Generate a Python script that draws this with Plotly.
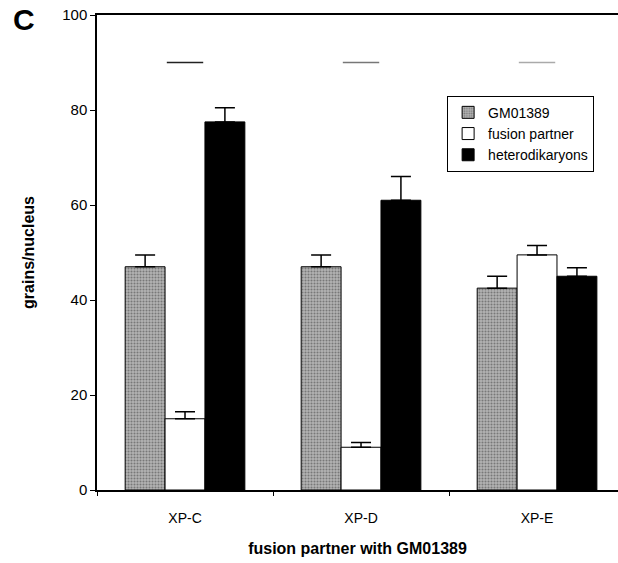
import plotly.graph_objects as go

categories = ["XP-C", "XP-D", "XP-E"]
gm01389 = [47.0, 47.0, 42.5]
gm01389_err = [2.5, 2.5, 2.5]
fusion_partner = [15.0, 9.0, 49.5]
fusion_partner_err = [1.5, 1.0, 2.0]
heterodikaryons = [77.5, 61.0, 45.0]
heterodikaryons_err = [3.0, 5.0, 1.8]
marks_top = [90, 90, 90]
y_ticks = [0, 20, 40, 60, 80, 100]

FONT = "Liberation Sans, Arial, sans-serif"

def err(vals):
    return dict(type="data", array=vals, arrayminus=[0] * len(vals), symmetric=False,
                color="black", thickness=1.5, width=10)

fig = go.Figure()
fig.add_trace(go.Bar(
    name="GM01389", x=categories, y=gm01389, error_y=err(gm01389_err),
    marker=dict(color="#a8a8a8", line=dict(color="black", width=1),
                pattern=dict(shape=".", fgcolor="#3c3c3c", bgcolor="#b4b4b4", size=3, solidity=0.4)),
))
fig.add_trace(go.Bar(
    name="fusion partner", x=categories, y=fusion_partner, error_y=err(fusion_partner_err),
    marker=dict(color="white", line=dict(color="black", width=1)),
))
fig.add_trace(go.Bar(
    name="heterodikaryons", x=categories, y=heterodikaryons, error_y=err(heterodikaryons_err),
    marker=dict(color="black", line=dict(color="black", width=1)),
))
fig.add_trace(go.Scatter(
    x=categories, y=marks_top, mode="markers", showlegend=False, hoverinfo="skip",
    marker=dict(symbol="line-ew", size=26, color="black",
                line=dict(width=1.5, color=["#222222", "#777777", "#aaaaaa"])),
))

fig.update_layout(
    width=618, height=563,
    margin=dict(l=97, r=0, t=15, b=73),
    paper_bgcolor="white", plot_bgcolor="white",
    barmode="group", bargap=0.32, bargroupgap=0,
    font=dict(family=FONT, size=14, color="black"),
    legend=dict(x=0.672, y=0.83, xanchor="left", yanchor="top",
                bordercolor="black", borderwidth=1, bgcolor="white",
                font=dict(size=14), itemwidth=30, tracegroupgap=0),
    xaxis=dict(range=[-0.5, 2.46], showline=True, linecolor="black", linewidth=1.5,
               mirror=True, ticks="outside", tickson="boundaries", ticklen=4,
               tickcolor="black", showgrid=False, zeroline=False,
               tickfont=dict(size=14), ticklabelstandoff=14,
               title=dict(text="<b>fusion partner with GM01389</b>", font=dict(size=16), standoff=18)),
    yaxis=dict(range=[0, 100], tickvals=y_ticks, showline=True, linecolor="black", linewidth=1.5,
               ticks="outside", ticklen=5, tickcolor="black", showgrid=False, zeroline=False,
               tickfont=dict(size=15),
               title=dict(text="<b>grains/nucleus</b>", font=dict(size=16), standoff=24)),
    annotations=[dict(text="<b>C</b>", x=-0.165, y=0.99, xref="paper", yref="paper",
                      xanchor="left", yanchor="middle", showarrow=False, font=dict(size=30))],
)

fig.write_html(
    "out.html",
    config={"displayModeBar": False},
    post_script=("document.body.style.margin='0';"
                 "document.body.style.overflow='hidden';"
                 "document.documentElement.style.overflow='hidden';"),
)
